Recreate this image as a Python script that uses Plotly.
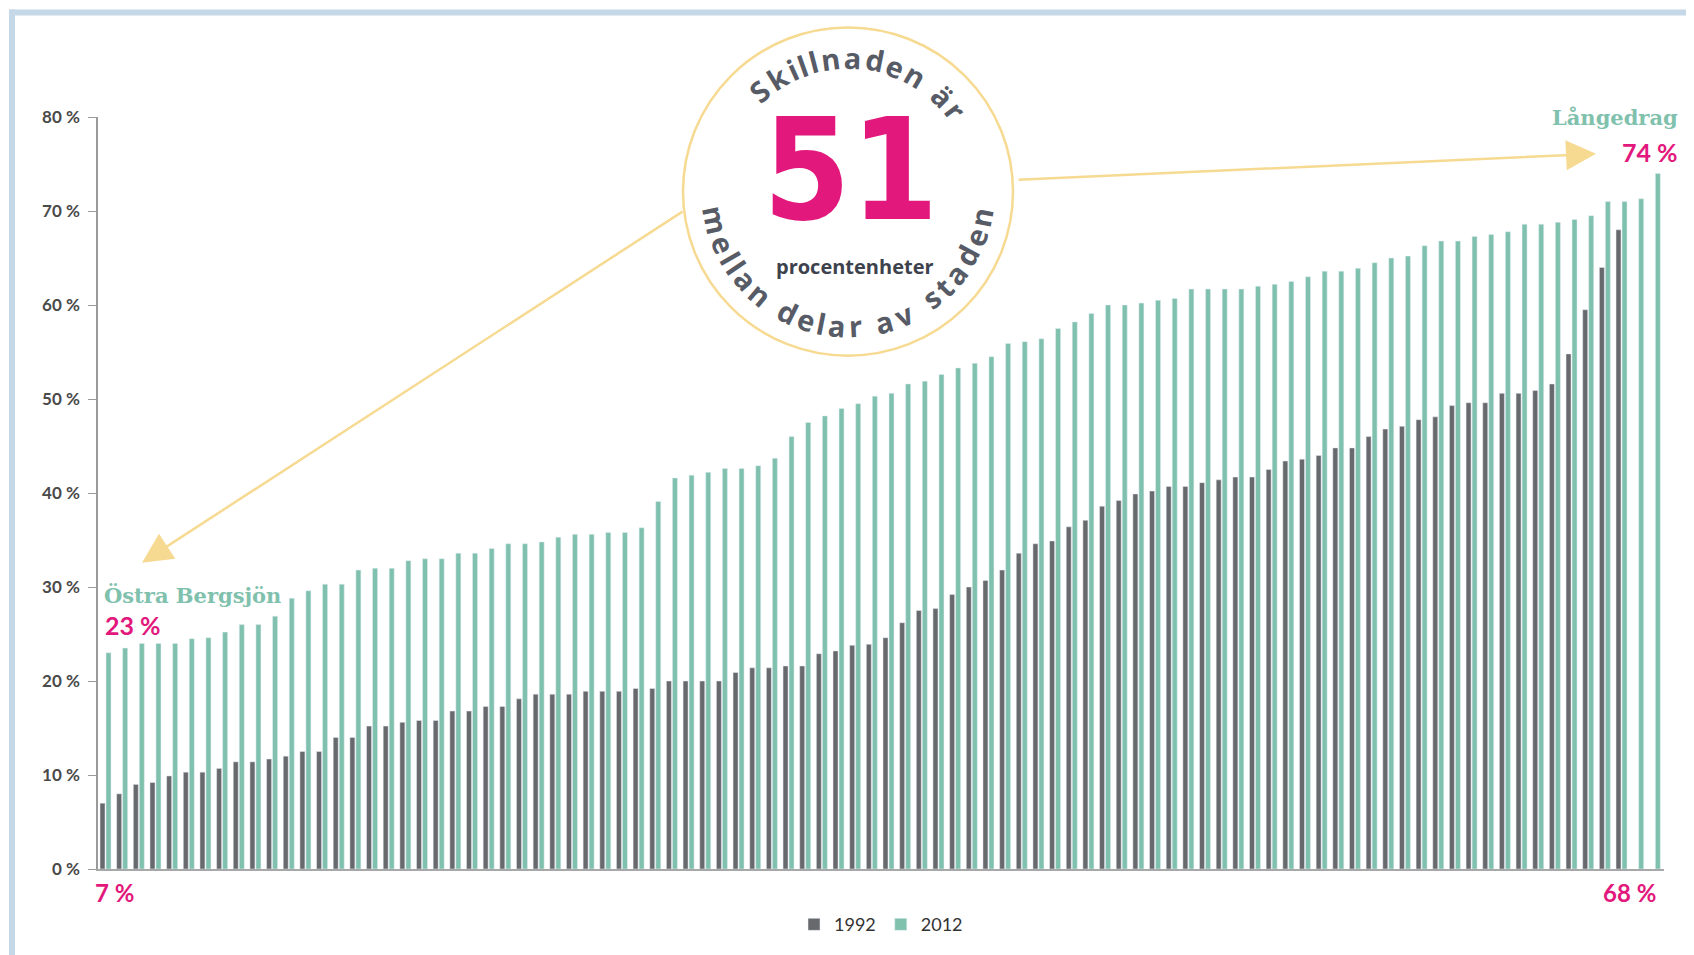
import math
import plotly.graph_objects as go

# andel (%) per stadsdel, sorterade stigande var för sig
share_1992 = [
    7.0, 8.0, 9.0, 9.2, 9.9, 10.3, 10.3, 10.7, 11.4, 11.4,
    11.7, 12.0, 12.5, 12.5, 14.0, 14.0, 15.2, 15.2, 15.6, 15.8,
    15.8, 16.8, 16.8, 17.3, 17.3, 18.1, 18.6, 18.6, 18.6, 18.9,
    18.9, 18.9, 19.2, 19.2, 20.0, 20.0, 20.0, 20.0, 20.9, 21.4,
    21.4, 21.6, 21.6, 22.9, 23.2, 23.8, 23.9, 24.6, 26.2, 27.5,
    27.7, 29.2, 30.0, 30.7, 31.8, 33.6, 34.6, 34.9, 36.4, 37.1,
    38.6, 39.2, 39.9, 40.2, 40.7, 40.7, 41.1, 41.4, 41.7, 41.7,
    42.5, 43.4, 43.6, 44.0, 44.8, 44.8, 46.0, 46.8, 47.1, 47.8,
    48.1, 49.3, 49.6, 49.6, 50.6, 50.6, 50.9, 51.6, 54.8, 59.5,
    64.0, 68.0,
]
share_2012 = [
    23.0, 23.5, 24.0, 24.0, 24.0, 24.5, 24.6, 25.2, 26.0, 26.0,
    26.9, 28.8, 29.6, 30.3, 30.3, 31.8, 32.0, 32.0, 32.8, 33.0,
    33.0, 33.6, 33.6, 34.1, 34.6, 34.6, 34.8, 35.3, 35.6, 35.6,
    35.8, 35.8, 36.3, 39.1, 41.6, 41.9, 42.2, 42.6, 42.6, 42.9,
    43.7, 46.0, 47.5, 48.2, 49.0, 49.5, 50.3, 50.6, 51.6, 51.9,
    52.6, 53.3, 53.8, 54.5, 55.9, 56.1, 56.4, 57.5, 58.2, 59.1,
    60.0, 60.0, 60.2, 60.5, 60.7, 61.7, 61.7, 61.7, 61.7, 62.0,
    62.2, 62.5, 63.0, 63.6, 63.6, 63.9, 64.5, 65.0, 65.2, 66.3,
    66.8, 66.8, 67.3, 67.5, 67.8, 68.6, 68.6, 68.8, 69.1, 69.5,
    71.0, 71.0, 71.3, 74.0,
]
years = ["1992", "2012"]
y_ticks = [0, 10, 20, 30, 40, 50, 60, 70, 80]
y_tick_labels = [f"<b>{v} %</b>" for v in y_ticks]

GREY = "#68696c"
TEAL = "#80c1ad"
PINK = "#e2187c"
YELLOW = "#f7da92"
TEXT = "#575b66"

# page has an 8px body margin; plot area given in page pixels
PAGE_OFF = 8
FIG_W, FIG_H = 1694 - PAGE_OFF, 955 - PAGE_OFF
L, T, W, H = 98, 117, 1566, 756


def px(x):
    return (x - L) / W


def py(y):
    return (T + H - y) / H


fig = go.Figure()
fig.add_trace(go.Bar(
    x=list(range(1, len(share_1992) + 1)), y=share_1992, name=years[0],
    marker_color=GREY, width=0.3, offset=-0.33,
))
fig.add_trace(go.Bar(
    x=list(range(1, len(share_2012) + 1)), y=share_2012, name=years[1],
    marker_color=TEAL, width=0.3, offset=0.03,
))

annotations = []


def label(text, x, y, size, color, family="Lato", xanchor="left", bold=True):
    if bold:
        text = f"<b>{text}</b>"
    annotations.append(dict(
        text=text, x=px(x), y=py(y), xref="paper", yref="paper",
        xanchor=xanchor, yanchor="middle", showarrow=False,
        font=dict(size=size, color=color, family=family),
    ))


label("Östra Bergsjön", 102, 598, 21, TEAL, family="DejaVu Serif")
label("23 %", 103, 628, 25, PINK)
label("Långedrag", 1680, 117, 21, TEAL, family="DejaVu Serif", xanchor="right")
label("74 %", 1680, 152, 25, PINK, xanchor="right")
label("7 %", 93, 897, 24, PINK)
label("68 %", 1658, 897, 24, PINK, xanchor="right")

# circle badge
cx, cy, r = 848, 192, 165


def arc_text(text, radius, start, end, size, top=True):
    widths = {"i": 0.3, "l": 0.3, "r": 0.42, "m": 0.9, " ": 0.32, "t": 0.4, "S": 0.58}
    w = [widths.get(ch, 0.58) for ch in text]
    centers = []
    acc = 0
    for ww in w:
        centers.append(acc + ww / 2)
        acc += ww
    first, last = centers[0], centers[-1]
    for ch, c in zip(text, centers):
        if ch == " ":
            continue
        a = start + (end - start) * (c - first) / (last - first)
        rad = math.radians(a)
        x = cx + radius * math.sin(rad)
        if top:
            y = cy - radius * math.cos(rad)
            ang = a
        else:
            y = cy + radius * math.cos(rad)
            ang = -a
        annotations.append(dict(
            text=f"<b>{ch}</b>", x=px(x), y=py(y), xref="paper", yref="paper",
            xanchor="center", yanchor="middle", showarrow=False, textangle=ang,
            font=dict(size=size, color=TEXT, family="Open Sans"),
        ))


arc_text("Skillnaden är", 135, -41, 53, 29, top=True)
arc_text("mellan delar av staden", 135, -78, 79, 29, top=False)

big = 140
annotations.append(dict(
    text="<b>51</b>", x=px(850), y=py(170), xref="paper", yref="paper",
    xanchor="center", yanchor="middle", showarrow=False, height=int(big * 0.8),
    font=dict(size=big, color=PINK, family="DejaVu Sans Condensed, sans-serif"),
))
annotations.append(dict(
    text="<b>procentenheter</b>", x=px(855), y=py(267), xref="paper", yref="paper",
    xanchor="center", yanchor="middle", showarrow=False,
    font=dict(size=20, color="#3d424d", family="Open Sans"),
))

# arrows from the badge
for tip, tail in [((142, 565), (684, 213)), ((1596, 154), (1017, 180))]:
    annotations.append(dict(
        text="", x=px(tip[0]), y=py(tip[1]), xref="paper", yref="paper",
        ax=tail[0] - tip[0], ay=tail[1] - tip[1], showarrow=True,
        arrowhead=2, arrowsize=2.4, arrowwidth=2.5, arrowcolor=YELLOW,
    ))

shapes = [
    dict(type="circle", xref="paper", yref="paper",
         x0=px(cx - r), x1=px(cx + r), y0=py(cy + r), y1=py(cy - r),
         line=dict(color=YELLOW, width=2.5), fillcolor="white", layer="above"),
    # light blue page frame
    dict(type="line", xref="paper", yref="paper",
         x0=px(9), x1=px(1700), y0=py(12), y1=py(12),
         line=dict(color="#c5d8e7", width=6)),
    dict(type="line", xref="paper", yref="paper",
         x0=px(12), x1=px(12), y0=py(9), y1=py(960),
         line=dict(color="#c5d8e7", width=6)),
]

fig.update_layout(
    width=FIG_W, height=FIG_H,
    margin=dict(l=L - PAGE_OFF, r=FIG_W - (L - PAGE_OFF) - W,
                t=T - PAGE_OFF, b=FIG_H - (T - PAGE_OFF) - H),
    plot_bgcolor="white", paper_bgcolor="white",
    barmode="overlay",
    showlegend=True,
    legend=dict(orientation="h", x=0.5, xanchor="center", y=-0.074, yanchor="middle",
                font=dict(size=18, color="#333", family="Lato"), itemwidth=30,
                tracegroupgap=0),
    xaxis=dict(range=[0.55, 94.55], showgrid=False, zeroline=False, showticklabels=False,
               showline=True, linecolor="#a8a8a8", linewidth=2, ticks=""),
    yaxis=dict(range=[0, 80], tickvals=y_ticks, ticktext=y_tick_labels, showgrid=False,
               zeroline=False, showline=True, linecolor="#9a9a9a", linewidth=1.5,
               ticks="outside", ticklen=8, tickcolor="#9a9a9a", ticklabelstandoff=5,
               tickfont=dict(size=17, color="#4a4a4a", family="Lato")),
    annotations=annotations,
    shapes=shapes,
)

fig.write_html("out.html")
